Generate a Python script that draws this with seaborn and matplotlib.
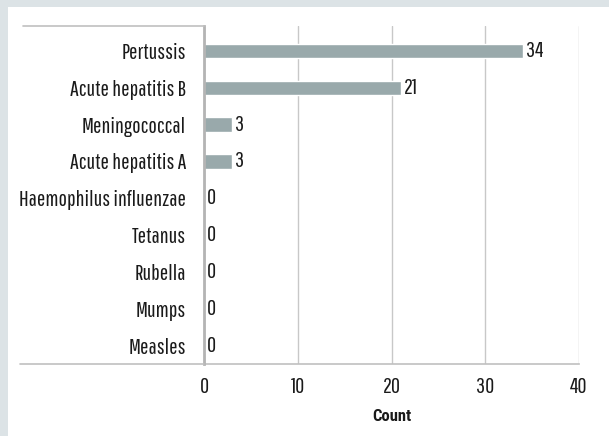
import matplotlib
matplotlib.use("Agg")
import matplotlib.pyplot as plt
import seaborn as sns
import pandas as pd
from matplotlib.patches import Rectangle
from matplotlib.lines import Line2D

diseases = ["Pertussis", "Acute hepatitis B", "Meningococcal", "Acute hepatitis A",
            "Haemophilus influenzae", "Tetanus", "Rubella", "Mumps", "Measles"]
counts = [34, 21, 3, 3, 0, 0, 0, 0, 0]
x_ticks = [0, 10, 20, 30, 40]
x_label = "Count"

sns.set_style("white")
plt.rcParams['font.family'] = ['Pathway Gothic One', 'Roboto Condensed', 'DejaVu Sans']
FS = 16
TC = "#1a1a1a"

W, H = 609, 436
fig = plt.figure(figsize=(W / 100, H / 100), dpi=100, facecolor="#dce3e6")
fig.patches.append(Rectangle((8 / W, 0), 1 - 8 / W, (H - 7) / H, transform=fig.transFigure,
                             facecolor="white", edgecolor="none", zorder=-10))

L, R, T, B = 204, 579, 26, 364
ax = fig.add_axes([L / W, (H - B) / H, (R - L) / W, (B - T) / H])
ax.set_facecolor("none")

df = pd.DataFrame({"disease": diseases, "count": counts})
sns.barplot(data=df, x="count", y="disease", orient="h", color="#99a9ab", saturation=1,
            width=0.39, ax=ax, zorder=3)

ax.set_xlim(0, 40)
ax.set_ylim(8.5, -0.68)
ax.set_xticks(x_ticks)
ax.set_xticklabels([str(t) for t in x_ticks], fontsize=FS, color=TC)
ax.tick_params(axis="x", length=0, pad=9)
ax.tick_params(axis="y", length=0, pad=13, labelsize=FS, labelcolor=TC)
ax.set_ylabel("")
ax.set_xlabel(x_label, fontsize=12, fontweight="bold", color=TC, labelpad=9,
              family=['Roboto Condensed', 'DejaVu Sans'])

ax.grid(axis="x", color="#c8c8c8", linewidth=1, zorder=0)
ax.grid(axis="y", visible=False)
for s in ["top", "right"]:
    ax.spines[s].set_visible(False)
ax.spines["bottom"].set_color("#c0c0c0")
ax.spines["bottom"].set_linewidth(1.2)
ax.spines["left"].set_color("#b4b4b4")
ax.spines["left"].set_linewidth(2)
ax.spines["left"].set_zorder(4)

fig.add_artist(Line2D([23 / W, L / W], [(H - T) / H, (H - T) / H], color="#c0c0c0", lw=1.2))
fig.add_artist(Line2D([20 / W, L / W], [(H - B) / H, (H - B) / H], color="#c0c0c0", lw=1.2))

for i, v in enumerate(counts):
    ax.text(v + 0.3, i, str(v), va="center", ha="left", fontsize=FS, color=TC, zorder=5)

fig.savefig("out.png", dpi=100, facecolor=fig.get_facecolor())
